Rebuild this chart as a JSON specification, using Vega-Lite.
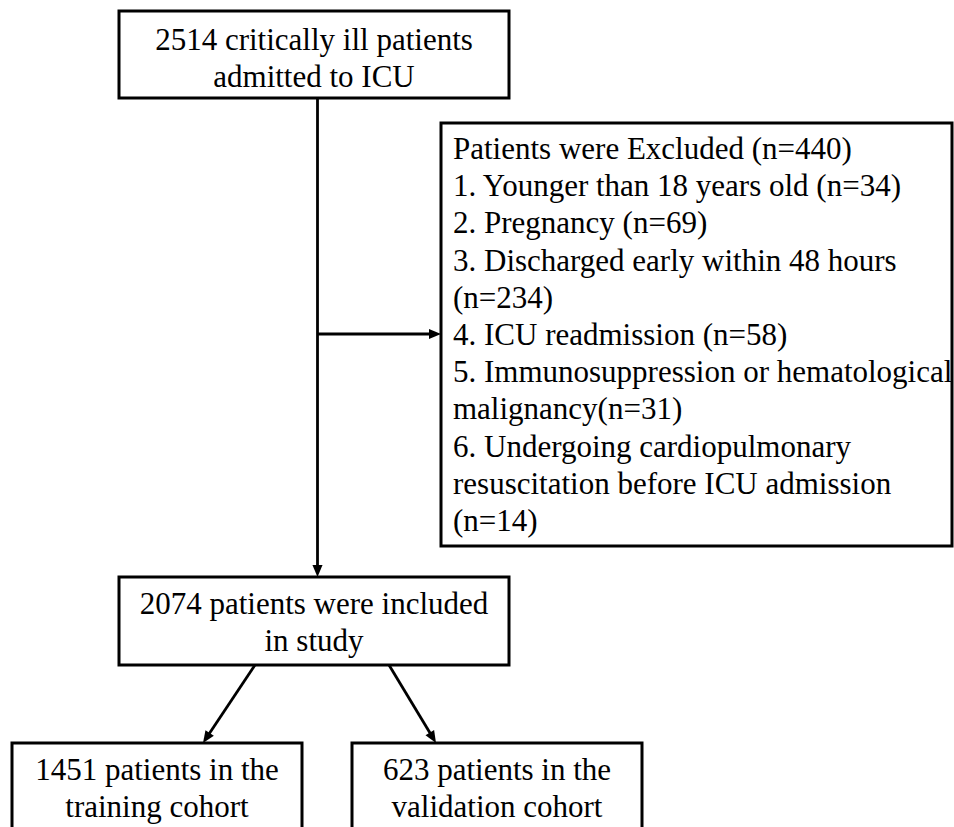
{
  "$schema": "https://vega.github.io/schema/vega-lite/v6.json",
  "width": 954,
  "height": 827,
  "padding": 0,
  "autosize": {"type": "none"},
  "background": "white",
  "config": {"view": {"stroke": null}},
  "datasets": {
    "boxes": [
      {"id": "top", "x1": 119, "x2": 509, "y1": 11, "y2": 98},
      {"id": "excl", "x1": 441, "x2": 952, "y1": 123, "y2": 546},
      {"id": "mid", "x1": 119, "x2": 509, "y1": 577, "y2": 665},
      {"id": "train", "x1": 12, "x2": 302, "y1": 743, "y2": 834},
      {"id": "valid", "x1": 352, "x2": 642, "y1": 743, "y2": 834}
    ],
    "links": [
      {"x1": 317.5, "y1": 98, "x2": 317.5, "y2": 568},
      {"x1": 317.5, "y1": 334, "x2": 432, "y2": 334},
      {"x1": 255, "y1": 665, "x2": 208, "y2": 735.5},
      {"x1": 389, "y1": 665, "x2": 431.4, "y2": 735.3}
    ],
    "heads": [
      {"x": 317.5, "y": 577, "ang": 180},
      {"x": 441, "y": 334, "ang": 90},
      {"x": 203, "y": 743, "ang": 213.7},
      {"x": 436, "y": 743, "ang": 148.9}
    ],
    "centerText": [
      {"label": "2514 critically ill patients\nadmitted to ICU", "x": 314, "y": 50},
      {"label": "2074 patients were included\nin study", "x": 314, "y": 614},
      {"label": "1451 patients in the\ntraining cohort", "x": 157, "y": 780},
      {"label": "623 patients in the\nvalidation cohort", "x": 497, "y": 780}
    ],
    "leftText": [
      {"label": "Patients were Excluded (n=440)\n1. Younger than 18 years old (n=34)\n2. Pregnancy (n=69)\n3. Discharged early within 48 hours\n(n=234)\n4. ICU readmission (n=58)\n5. Immunosuppression or hematological\nmalignancy(n=31)\n6. Undergoing cardiopulmonary\nresuscitation before ICU admission\n(n=14)", "x": 453, "y": 159}
    ]
  },
  "layer": [
    {
      "data": {"name": "boxes"},
      "mark": {"type": "rect", "fill": "white", "stroke": "black", "strokeWidth": 3},
      "encoding": {
        "x": {"field": "x1", "type": "quantitative", "scale": {"domain": [0, 954], "nice": false, "zero": false}, "axis": null},
        "x2": {"field": "x2"},
        "y": {"field": "y1", "type": "quantitative", "scale": {"domain": [0, 827], "nice": false, "zero": false, "reverse": true}, "axis": null},
        "y2": {"field": "y2"}
      }
    },
    {
      "data": {"name": "links"},
      "mark": {"type": "rule", "stroke": "black", "strokeWidth": 2.8},
      "encoding": {
        "x": {"field": "x1", "type": "quantitative", "scale": {"domain": [0, 954], "nice": false, "zero": false}, "axis": null},
        "x2": {"field": "x2"},
        "y": {"field": "y1", "type": "quantitative", "scale": {"domain": [0, 827], "nice": false, "zero": false, "reverse": true}, "axis": null},
        "y2": {"field": "y2"}
      }
    },
    {
      "data": {"name": "heads"},
      "mark": {"type": "point", "shape": "M0,0L0.42,1L-0.42,1Z", "filled": true, "fill": "black", "stroke": null, "opacity": 1, "size": 576},
      "encoding": {
        "x": {"field": "x", "type": "quantitative", "scale": {"domain": [0, 954], "nice": false, "zero": false}, "axis": null},
        "y": {"field": "y", "type": "quantitative", "scale": {"domain": [0, 827], "nice": false, "zero": false, "reverse": true}, "axis": null},
        "angle": {"field": "ang", "type": "quantitative", "scale": null}
      }
    },
    {
      "data": {"name": "centerText"},
      "mark": {"type": "text", "font": "Liberation Serif", "fontSize": 31, "align": "center", "baseline": "alphabetic", "lineBreak": "\n", "lineHeight": 37, "fill": "black"},
      "encoding": {
        "x": {"field": "x", "type": "quantitative", "scale": {"domain": [0, 954], "nice": false, "zero": false}, "axis": null},
        "y": {"field": "y", "type": "quantitative", "scale": {"domain": [0, 827], "nice": false, "zero": false, "reverse": true}, "axis": null},
        "text": {"field": "label", "type": "nominal"}
      }
    },
    {
      "data": {"name": "leftText"},
      "mark": {"type": "text", "font": "Liberation Serif", "fontSize": 31, "align": "left", "baseline": "alphabetic", "lineBreak": "\n", "lineHeight": 37.2, "fill": "black"},
      "encoding": {
        "x": {"field": "x", "type": "quantitative", "scale": {"domain": [0, 954], "nice": false, "zero": false}, "axis": null},
        "y": {"field": "y", "type": "quantitative", "scale": {"domain": [0, 827], "nice": false, "zero": false, "reverse": true}, "axis": null},
        "text": {"field": "label", "type": "nominal"}
      }
    }
  ]
}
